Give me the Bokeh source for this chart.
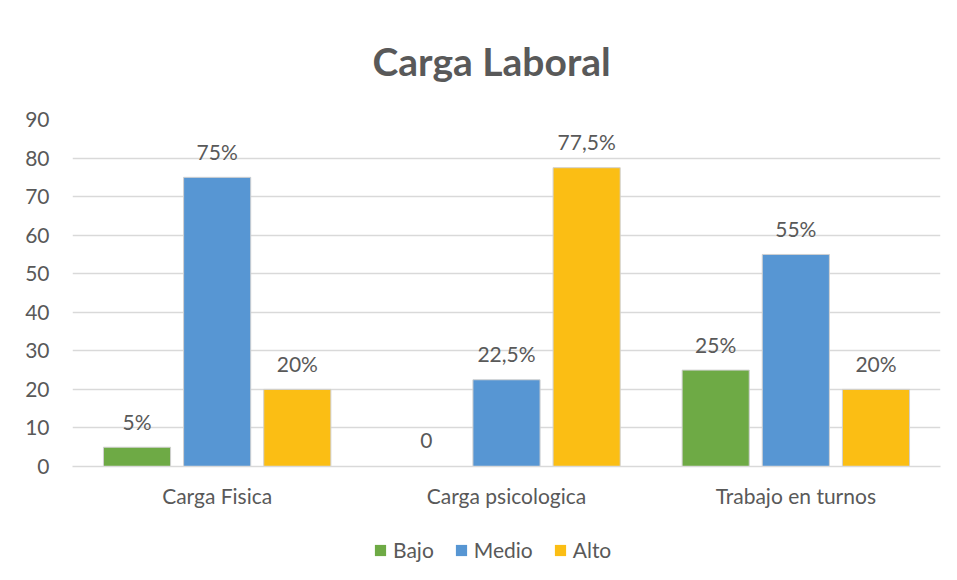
from bokeh.plotting import figure
from bokeh.layouts import column
from bokeh.models import ColumnDataSource, FactorRange, Range1d, Legend, LegendItem, SingleIntervalTicker
from bokeh.transform import dodge
from bokeh.embed import file_html
from bokeh.resources import INLINE

categories = ["Carga Fisica", "Carga psicologica", "Trabajo en turnos"]
bajo = [5, 0, 25]
medio = [75, 22.5, 55]
alto = [20, 77.5, 20]
bajo_labels = ["5%", "0", "25%"]
medio_labels = ["75%", "22,5%", "55%"]
alto_labels = ["20%", "77,5%", "20%"]
y_ticks = [0, 10, 20, 30, 40, 50, 60, 70, 80, 90]
series_names = ["Bajo", "Medio", "Alto"]
series_cols = ["bajo", "medio", "alto"]
series_colors = ["#6EAA45", "#5796D3", "#FBBE14"]

FONT = "Lato"
TXT = "#595959"
FS = "21px"

src = ColumnDataSource(dict(cat=categories, bajo=bajo, medio=medio, alto=alto,
                            bl=bajo_labels, ml=medio_labels, al=alto_labels))

p = figure(x_range=FactorRange(*categories, range_padding=0), y_range=Range1d(0, 90),
           width=949, height=520, output_backend="svg", toolbar_location=None,
           min_border_left=72, min_border_right=9, min_border_top=118, min_border_bottom=54)

p.title.text = "Carga Laboral"
p.title.align = "left"
p.title.text_font = FONT
p.title.text_font_size = "39px"
p.title.text_font_style = "bold"
p.title.text_color = TXT
p.title.offset = 300
p.title.standoff = 71

p.outline_line_color = None
p.background_fill_color = "white"
p.border_fill_color = "white"

p.xgrid.grid_line_color = None
p.ygrid.grid_line_color = "#d9d9d9"
p.ygrid.grid_line_width = 1.3
p.ygrid.ticker = SingleIntervalTicker(interval=10)

p.yaxis.ticker = y_ticks
p.yaxis.axis_line_color = None
p.yaxis.major_tick_line_color = None
p.yaxis.minor_tick_line_color = None
p.yaxis.major_label_text_font = FONT
p.yaxis.major_label_text_font_size = FS
p.yaxis.major_label_text_color = TXT
p.yaxis.major_label_standoff = 17

p.xaxis.axis_line_color = "#d9d9d9"
p.xaxis.axis_line_width = 1.3
p.xaxis.major_tick_line_color = None
p.xaxis.minor_tick_line_color = None
p.xaxis.major_label_text_font = FONT
p.xaxis.major_label_text_font_size = FS
p.xaxis.major_label_text_color = TXT
p.xaxis.major_label_standoff = 10

W = 0.232
OFF = 0.277
for col, off, color in [("bajo", -OFF, series_colors[0]), ("medio", 0, series_colors[1]),
                        ("alto", OFF, series_colors[2])]:
    p.vbar(x=dodge("cat", off, range=p.x_range), top=col, width=W, source=src,
           fill_color=color, line_color="#d0d0d0", line_width=1)

for col, lab, off in [("bajo", "bl", -OFF), ("medio", "ml", 0), ("alto", "al", OFF)]:
    p.text(x=dodge("cat", off, range=p.x_range), y=col, text=lab, source=src,
           text_align="center", text_baseline="alphabetic", y_offset=-26,
           text_font={"value": FONT}, text_font_size={"value": FS}, text_color=TXT)

# legend strip below the chart (its renderers lie outside the strip's ranges)
lg = figure(width=949, height=60, output_backend="svg", toolbar_location=None,
            min_border=0, x_range=Range1d(1000, 1001), y_range=Range1d(1000, 1001))
lg.axis.visible = False
lg.grid.grid_line_color = None
lg.outline_line_color = None
lg.border_fill_color = "white"
items = []
for name, col, color in zip(series_names, series_cols, series_colors):
    r = lg.vbar(x=col, top=col, width=0.5, source=src,
                fill_color=color, line_color=None)
    items.append(LegendItem(label=name, renderers=[r]))
legend = Legend(items=items, orientation="horizontal", location=(301, 18),
                glyph_width=14, glyph_height=14, label_standoff=6, spacing=20,
                label_text_font=FONT, label_text_font_size=FS, label_text_color=TXT,
                border_line_color=None, background_fill_alpha=0, padding=0, margin=0)
lg.add_layout(legend, "center")

layout = column(p, lg, spacing=0)
open("out.html", "w").write(file_html(layout, INLINE))
